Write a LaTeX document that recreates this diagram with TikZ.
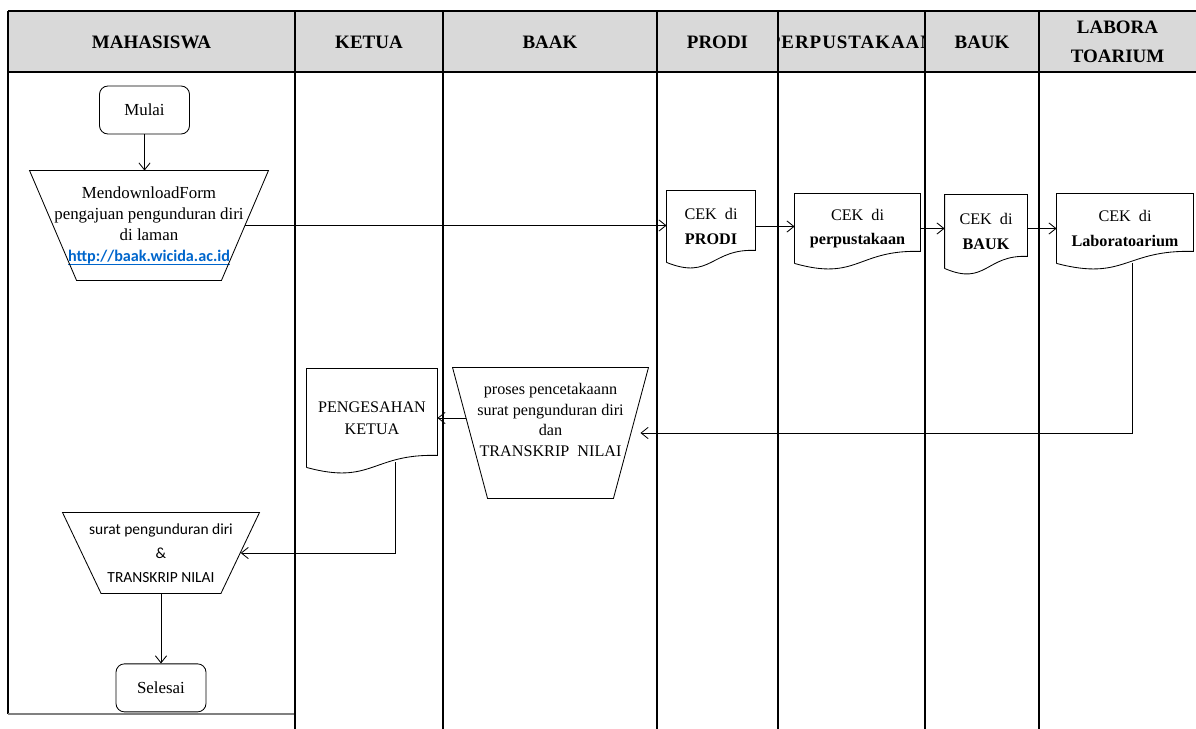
\documentclass[tikz,border=0pt]{standalone}
\usepackage{fontspec}
\setmainfont{Liberation Serif}
\newfontfamily\calibri{Carlito}
\usepackage{tikz}
\usetikzlibrary{shapes.geometric,arrows.meta,positioning,calc}
\definecolor{headgray}{RGB}{217,217,217}
\definecolor{linkblue}{RGB}{0,102,204}
\newsavebox\linkbox
\newcommand{\weblink}[1]{\sbox\linkbox{#1}\rlap{\rule[-2.2pt]{\wd\linkbox}{0.7pt}}\usebox\linkbox}
\newcommand{\docline}[1]{\draw (#1.south west) -- (#1.north west) -- (#1.north east) -- ($(#1.south east)+(0,-12)$) .. controls ($(#1.south)+(0,-14)$) and ($(#1.south)+(0,18)$) .. (#1.south west);}
\newcommand{\manline}[2]{\draw (#1.north west) -- (#1.north east) -- ($(#1.south east)+(-#2,0)$) -- ($(#1.south west)+(#2,0)$) -- cycle;}

\begin{document}
\begin{tikzpicture}[x=0.025cm, y=-0.025cm, line width=0.6pt, font=\fontsize{12}{15}\selectfont, term/.style={draw, rounded corners=6pt, minimum width=2.25cm, minimum height=1.2cm}, manual/.style={align=center, inner sep=0pt}, doc/.style={align=center, inner sep=0pt, font=\fontsize{11.5}{17.5}\selectfont}, head/.style={font=\fontsize{13.5}{21}\selectfont\bfseries, align=center}, arr/.style={-{Straight Barb[length=5pt,width=8pt]}}, lane/.style={line width=0.8pt}]
\useasboundingbox (0,0) rectangle (1196,729);
\fill[headgray] (8,11) rectangle (1196,72);
\draw[lane] (8,11) -- (1196,11) (8,72) -- (1196,72) (8,11) -- (8,714);
\draw[lane, gray] (8,714) -- (295,714);
\foreach \x in {295,443,657,778,925,1039} \draw[lane] (\x,11) -- (\x,729);
\node[head] (hmaha) at (151.5,42) {MAHASISWA};
\node[head] (hketua) at (369,42) {KETUA};
\node[head] (hbaak) at (550,42) {BAAK};
\node[head] (hprodi) at (717.5,42) {PRODI};
\begin{scope}
\clip (778,11) rectangle (925,72);
\node[head] (hperpus) at (851.5,42) {\addfontfeatures{LetterSpace=5}PERPUSTAKAAN};
\end{scope}
\node[head] (hbauk) at (982,42) {BAUK};
\node[head] (hlab) at (1117.5,42) {LABORA\\TOARIUM};

\node[term] (mulai) at (144.5,110) {Mulai};
\node[manual, minimum width=5.95cm, minimum height=2.725cm] (form) at (149,225.5) {MendownloadForm\\pengajuan pengunduran diri\\di laman\\\textcolor{linkblue}{\calibri\bfseries\fontsize{11.5}{15}\selectfont\weblink{http://baak.wicida.ac.id}}};
\manline{form}{47}

\node[doc, minimum width=2.2cm, minimum height=1.775cm] (prodi) at (711,226.5) {CEK\ \ di\\\textbf{PRODI}};
\node[doc, minimum width=3.125cm, minimum height=1.725cm] (perpus) at (857.5,228.5) {CEK\ \ di\\\textbf{perpustakaan}};
\node[doc, minimum width=2.05cm, minimum height=1.825cm] (bauk) at (986,231.5) {CEK\ \ di\\\textbf{BAUK}};
\node[doc, minimum width=3.4cm, minimum height=1.725cm] (lab) at (1125,228.5) {CEK\ \ di\\\textbf{Laboratoarium}};
\docline{prodi}
\docline{perpus}
\docline{bauk}
\docline{lab}

\node[manual, minimum width=4.875cm, minimum height=3.25cm] (proses) at (550.5,433) {};
\manline{proses}{35}
\node[align=center, font=\fontsize{11.5}{14.5}\selectfont] (prosestxt) at (550.5,420) {proses pencetakaann\\surat pengunduran diri\\dan\\TRANSKRIP\ \ NILAI};
\node[doc, minimum width=3.25cm, minimum height=2.45cm, font=\fontsize{11.5}{16}\selectfont] (pengesahan) at (372,418) {PENGESAHAN\\KETUA};
\docline{pengesahan}

\node[manual, minimum width=4.9cm, minimum height=2cm, font=\calibri\fontsize{11}{17}\selectfont] (surat) at (161,553) {surat pengunduran diri\\\&\\TRANSKRIP NILAI};
\manline{surat}{38.5}
\node[term, below=1.75cm of surat] (selesai) {Selesai};

\draw[arr] (mulai.south) -- (mulai.south |- form.north);
\draw[arr, shorten <=-0.59cm] (form.east) -- (form.east -| prodi.west);
\draw[arr] (prodi.east) -- (prodi.east -| perpus.west);
\draw[arr] (perpus.east) -- (perpus.east -| bauk.west);
\draw[arr] (bauk.east |- lab.west) -- (lab.west);
\draw[arr, shorten >=-0.2cm] ($(lab.south)+(7,0)$) |- (proses.east);
\draw[arr, shorten <=-0.34cm] (proses.west |- pengesahan.east) -- (pengesahan.east);
\draw[arr, shorten >=-0.47cm] ($(pengesahan.south)+(23,-5)$) |- (surat.east);
\draw[arr] (surat.south) -- (selesai.north);
\end{tikzpicture}
\end{document}
